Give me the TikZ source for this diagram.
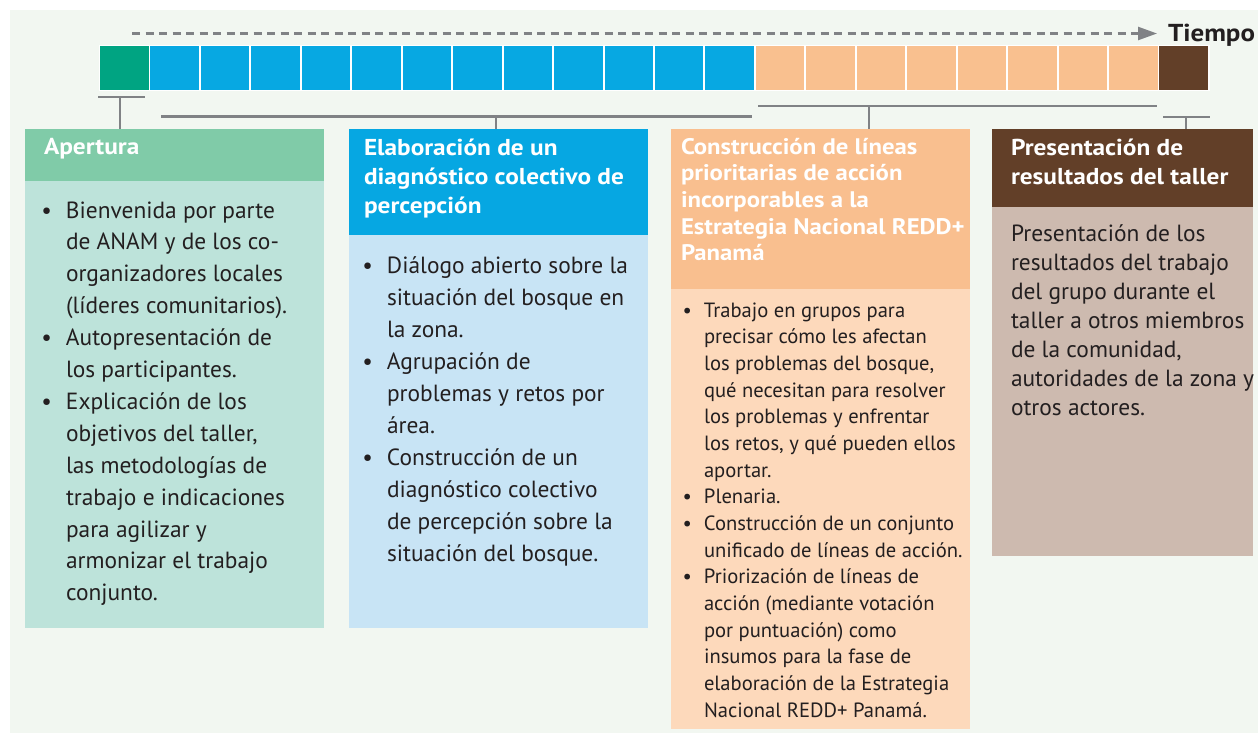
\documentclass[tikz,border=0pt]{standalone}
\usepackage{fontspec}
\setmainfont{PT Sans}
\newfontfamily\hfont[FakeStretch=1.1]{PT Sans}
\usetikzlibrary{arrows.meta}
\definecolor{bg}{HTML}{F2F7F1}
\definecolor{lgray}{HTML}{808285}
\definecolor{tdark}{HTML}{231F20}
\definecolor{sqgreen}{HTML}{00A482}
\definecolor{sqblue}{HTML}{07A8E2}
\definecolor{sqorange}{HTML}{F9C08F}
\definecolor{sqbrown}{HTML}{623F28}
\definecolor{hgreen}{HTML}{80CBA8}
\definecolor{bgreen}{HTML}{BDE3DA}
\definecolor{hblue}{HTML}{06A7E2}
\definecolor{bblue}{HTML}{C8E4F5}
\definecolor{horange}{HTML}{F9BF8F}
\definecolor{borange}{HTML}{FDD9BB}
\definecolor{hbrown}{HTML}{623F28}
\definecolor{bbrown}{HTML}{CDBAAF}
\newcommand\fbody{\fontsize{23.4}{29}\selectfont}
\newcommand\fsmall{\fontsize{20.6}{24}\selectfont}
\newcommand\fhead{\hfont\bfseries\fontsize{23}{27}\selectfont}
\newcommand\fheadsm{\hfont\bfseries\fontsize{22.5}{25}\selectfont}
\newcommand\B{\llap{\textbullet\hspace{14pt}}}
\newcommand\Bs{\llap{\textbullet\hspace{12pt}}}
\newcommand\tlines[6]{% name, x, y0, pitch, style, list
  \foreach \t [count=\i from 0] in {#6} {\node[txt,#5] (#1\i) at (#2,#3+\i*#4) {\t};}}
\begin{document}
\begin{tikzpicture}[x=1pt,y=-1pt,
  conn/.style={draw=lgray,line width=2.2pt},
  sq/.style={minimum width=48.5pt,minimum height=44pt,inner sep=0pt,outer sep=0pt,anchor=north west},
  box/.style={inner sep=0pt,outer sep=0pt,anchor=north west},
  txt/.style={anchor=base west,inner sep=0pt,outer sep=0pt,text=tdark},
  htxt/.style={text=white},
  bodyf/.style={font=\fbody},
  smallf/.style={font=\fsmall},
  headf/.style={font=\fhead},
  headsmf/.style={font=\fheadsm}]
\useasboundingbox (0,0) rectangle (1258,734);
\fill[bg] (10,10) rectangle (1258,733);
% timeline squares
\fill[white] (99,45) rectangle (1209.5,91);
\node[sq,fill=sqgreen] (s0) at (100,46) {};
\foreach \i in {1,...,12} {\node[sq,fill=sqblue] (s\i) at (100+\i*50.45,46) {};}
\foreach \i in {13,...,20} {\node[sq,fill=sqorange] (s\i) at (100+\i*50.45,46) {};}
\node[sq,fill=sqbrown] (s21) at (100+21*50.45,46) {};
% time arrow
\coordinate (ds) at (132,33.5);
\coordinate (de) at (1157,33.5);
\draw[lgray,line width=2.4pt,dash pattern=on 8pt off 5.5pt,-{Triangle[length=19pt,width=13pt]}] (ds) -- (de);
\node[txt,font=\hfont\bfseries\fontsize{24.5}{30}\selectfont] (tiempo) at (1168,41.5) {Tiempo};
% boxes
\node[box,fill=hgreen,minimum width=299pt,minimum height=52pt] (h1) at (25,129) {};
\node[box,fill=bgreen,minimum width=299pt,minimum height=447pt] (b1) at (25,181) {};
\node[box,fill=hblue,minimum width=299pt,minimum height=106pt] (h2) at (349,129) {};
\node[box,fill=bblue,minimum width=299pt,minimum height=393pt] (b2) at (349,235) {};
\node[box,fill=horange,minimum width=299pt,minimum height=160pt] (h3) at (671,129) {};
\node[box,fill=borange,minimum width=299pt,minimum height=439.5pt] (b3) at (671,289) {};
\node[box,fill=hbrown,minimum width=261pt,minimum height=78pt] (h4) at (992,129) {};
\node[box,fill=bbrown,minimum width=261pt,minimum height=349pt] (b4) at (992,207) {};
% brackets
\coordinate (k1l) at (98,97); \coordinate (k1r) at (145,97); \coordinate (k1m) at (120,97);
\draw[conn] (k1l) -- (k1r); \draw[conn] (k1m) -- (k1m |- h1.north);
\coordinate (k2l) at (161,116.5); \coordinate (k2r) at (752,116.5); \coordinate (k2m) at (496,116.5);
\draw[conn] (k2l) -- (k2r); \draw[conn] (k2m) -- (k2m |- h2.north);
\coordinate (k3l) at (758,106); \coordinate (k3r) at (1157,106); \coordinate (k3m) at (869,106);
\draw[conn] (k3l) -- (k3r); \draw[conn] (k3m) -- (k3m |- h3.north);
\coordinate (k4l) at (1163,117); \coordinate (k4r) at (1210,117); \coordinate (k4m) at (1186,117);
\draw[conn] (k4l) -- (k4r); \draw[conn] (k4m) -- (k4m |- h4.north);
% headings
\tlines{ha}{44}{154}{29}{headf,htxt}{{Apertura}}
\tlines{hb}{364}{155}{29}{headf,htxt}{{Elaboración de un},{diagnóstico colectivo de},{percepción}}
\tlines{hc}{681}{154}{26.67}{headsmf,htxt}{{Construcción de líneas},{prioritarias de acción},{incorporables a la},{Estrategia Nacional REDD+},{Panamá}}
\tlines{hd}{1011}{155.5}{28.5}{headf,htxt}{{Presentación de},{resultados del taller}}
% bodies
\tlines{ta}{66}{218}{31.9}{bodyf}{{\B Bienvenida por parte},{de ANAM y de los co-},{organizadores locales},{(líderes comunitarios).},{\B Autopresentación de},{los participantes.},{\B Explicación de los},{objetivos del taller,},{las metodologías de},{trabajo e indicaciones},{para agilizar y},{armonizar el trabajo},{conjunto.}}
\tlines{tb}{387}{273}{32}{bodyf}{{\B Diálogo abierto sobre la},{situación del bosque en},{la zona.},{\B Agrupación de},{problemas y retos por},{área.},{\B Construcción de un},{diagnóstico colectivo},{de percepción sobre la},{situación del bosque.}}
\tlines{tc}{704}{317}{26.67}{smallf}{{\Bs Trabajo en grupos para},{precisar cómo les afectan},{los problemas del bosque,},{qué necesitan para resolver},{los problemas y enfrentar},{los retos, y qué pueden ellos},{aportar.},{\Bs Plenaria.},{\Bs Construcción de un conjunto},{unificado de líneas de acción.},{\Bs Priorización de líneas de},{acción (mediante votación},{por puntuación) como},{insumos para la fase de},{elaboración de la Estrategia},{Nacional REDD+ Panamá.}}
\tlines{td}{1011}{241}{29}{bodyf}{{Presentación de los},{resultados del trabajo},{del grupo durante el},{taller a otros miembros},{de la comunidad,},{autoridades de la zona y},{otros actores.}}
\end{tikzpicture}
\end{document}
